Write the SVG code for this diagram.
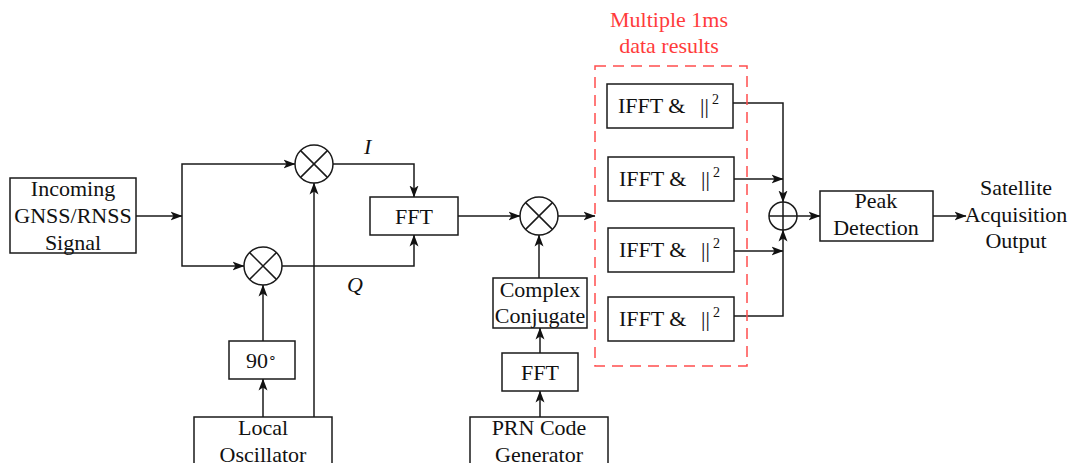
<svg xmlns="http://www.w3.org/2000/svg" width="1074" height="463" viewBox="0 0 1074 463">
  <style>
    .box { fill: #ffffff; stroke: #1a1a1a; stroke-width: 1.5; }
    .op { fill: #ffffff; stroke: #1a1a1a; stroke-width: 1.5; }
    .op-line { stroke: #1a1a1a; stroke-width: 1.5; }
    .wire { fill: none; stroke: #1a1a1a; stroke-width: 1.5; }
    .wire-arrow { fill: none; stroke: #1a1a1a; stroke-width: 1.5; marker-end: url(#head); }
    .group { fill: none; stroke: #ff4d4d; stroke-width: 1.5; stroke-dasharray: 11 7; }
    text { font-family: "Liberation Serif", "Times New Roman", serif; font-size: 22px; fill: #111111; }
    .c { text-anchor: middle; }
    .it { font-style: italic; }
    .red { fill: #ff3b3b; }
    .sup { font-size: 14px; }
  </style>
  <defs>
    <marker id="head" viewBox="0 0 12 10" markerWidth="12" markerHeight="10" refX="11.5" refY="5" orient="auto" markerUnits="userSpaceOnUse">
      <path d="M0,0.5 L12,5 L0,9.5 L3,5 Z" fill="#111111"/>
    </marker>
  </defs>

  <!-- connectors -->
  <g id="connectors">
    <path class="wire-arrow" d="M136,216 H182"/>
    <path class="wire-arrow" d="M182,216 V164 H295"/>
    <path class="wire-arrow" d="M182,216 V266 H244"/>
    <path class="wire-arrow" d="M333,164 H414 V197"/>
    <path class="wire-arrow" d="M282,266 H414 V235"/>
    <path class="wire-arrow" d="M314,417 V183"/>
    <path class="wire-arrow" d="M263,417 V379"/>
    <path class="wire-arrow" d="M263,341 V285"/>
    <path class="wire-arrow" d="M458,216 H520"/>
    <path class="wire-arrow" d="M558,216 H595"/>
    <path class="wire-arrow" d="M539,278 V235"/>
    <path class="wire-arrow" d="M540,353 V328"/>
    <path class="wire-arrow" d="M540,417 V391"/>
    <path class="wire-arrow" d="M733,103 H783 V202"/>
    <path class="wire-arrow" d="M734,179 H783"/>
    <path class="wire-arrow" d="M734,251 H783"/>
    <path class="wire-arrow" d="M734,316 H783 V230"/>
    <path class="wire-arrow" d="M797,216 H820"/>
    <path class="wire-arrow" d="M933,216 H966"/>
  </g>

  <!-- input signal -->
  <g id="incoming">
    <rect class="box" x="10" y="178" width="126" height="75"/>
    <text class="c" x="73" y="196">Incoming</text>
    <text class="c" x="73" y="223">GNSS/RNSS</text>
    <text class="c" x="73" y="250">Signal</text>
  </g>

  <!-- I/Q mixers -->
  <g id="mixer-i">
    <circle class="op" cx="314" cy="164" r="19"/>
    <path class="op-line" d="M300.6,150.6 L327.4,177.4 M327.4,150.6 L300.6,177.4"/>
    <text class="it" x="364" y="154">I</text>
  </g>
  <g id="mixer-q">
    <circle class="op" cx="263" cy="266" r="19"/>
    <path class="op-line" d="M249.6,252.6 L276.4,279.4 M276.4,252.6 L249.6,279.4"/>
    <text class="it" x="347" y="292">Q</text>
  </g>

  <g id="phase-shift">
    <rect class="box" x="229" y="341" width="66" height="38"/>
    <text x="246" y="368">90<tspan class="sup" dy="-6">∘</tspan></text>
  </g>

  <g id="local-oscillator">
    <rect class="box" x="194" y="417" width="138" height="60"/>
    <text class="c" x="263" y="435">Local</text>
    <text class="c" x="263" y="462">Oscillator</text>
  </g>

  <g id="fft-signal">
    <rect class="box" x="370" y="197" width="88" height="38"/>
    <text class="c" x="414" y="224">FFT</text>
  </g>

  <!-- correlation multiplier -->
  <g id="mixer-corr">
    <circle class="op" cx="539" cy="216" r="19"/>
    <path class="op-line" d="M525.6,202.6 L552.4,229.4 M552.4,202.6 L525.6,229.4"/>
  </g>

  <g id="complex-conjugate">
    <rect class="box" x="493" y="278" width="94" height="50"/>
    <text class="c" x="540" y="297">Complex</text>
    <text class="c" x="540" y="323">Conjugate</text>
  </g>

  <g id="fft-code">
    <rect class="box" x="502" y="353" width="76" height="38"/>
    <text class="c" x="540" y="380">FFT</text>
  </g>

  <g id="prn-generator">
    <rect class="box" x="470" y="417" width="138" height="60"/>
    <text class="c" x="539" y="435">PRN Code</text>
    <text class="c" x="539" y="462">Generator</text>
  </g>

  <!-- 1 ms result bank -->
  <g id="result-bank">
    <rect class="group" x="595" y="66" width="152" height="300"/>
    <text class="c red" x="669" y="27">Multiple 1ms</text>
    <text class="c red" x="669" y="53">data results</text>
  </g>

  <g id="ifft-1">
    <rect class="box" x="607" y="84" width="126" height="44"/>
    <text x="618" y="113">IFFT &amp;</text>
    <text x="700" y="113">||</text>
    <text class="sup" x="712" y="104">2</text>
  </g>
  <g id="ifft-2">
    <rect class="box" x="608" y="157" width="126" height="44"/>
    <text x="619" y="186">IFFT &amp;</text>
    <text x="701" y="186">||</text>
    <text class="sup" x="713" y="177">2</text>
  </g>
  <g id="ifft-3">
    <rect class="box" x="608" y="228" width="126" height="44"/>
    <text x="619" y="257">IFFT &amp;</text>
    <text x="701" y="257">||</text>
    <text class="sup" x="713" y="248">2</text>
  </g>
  <g id="ifft-4">
    <rect class="box" x="608" y="297" width="126" height="44"/>
    <text x="619" y="326">IFFT &amp;</text>
    <text x="701" y="326">||</text>
    <text class="sup" x="713" y="317">2</text>
  </g>

  <!-- summation -->
  <g id="summer">
    <circle class="op" cx="783" cy="216" r="14"/>
    <path class="op-line" d="M769,216 H797 M783,202 V230"/>
  </g>

  <g id="peak-detection">
    <rect class="box" x="820" y="191" width="113" height="50"/>
    <text class="c" x="876" y="208">Peak</text>
    <text class="c" x="876" y="235">Detection</text>
  </g>

  <g id="output">
    <text class="c" x="1016" y="195">Satellite</text>
    <text class="c" x="1016" y="222">Acquisition</text>
    <text class="c" x="1016" y="248">Output</text>
  </g>
</svg>
